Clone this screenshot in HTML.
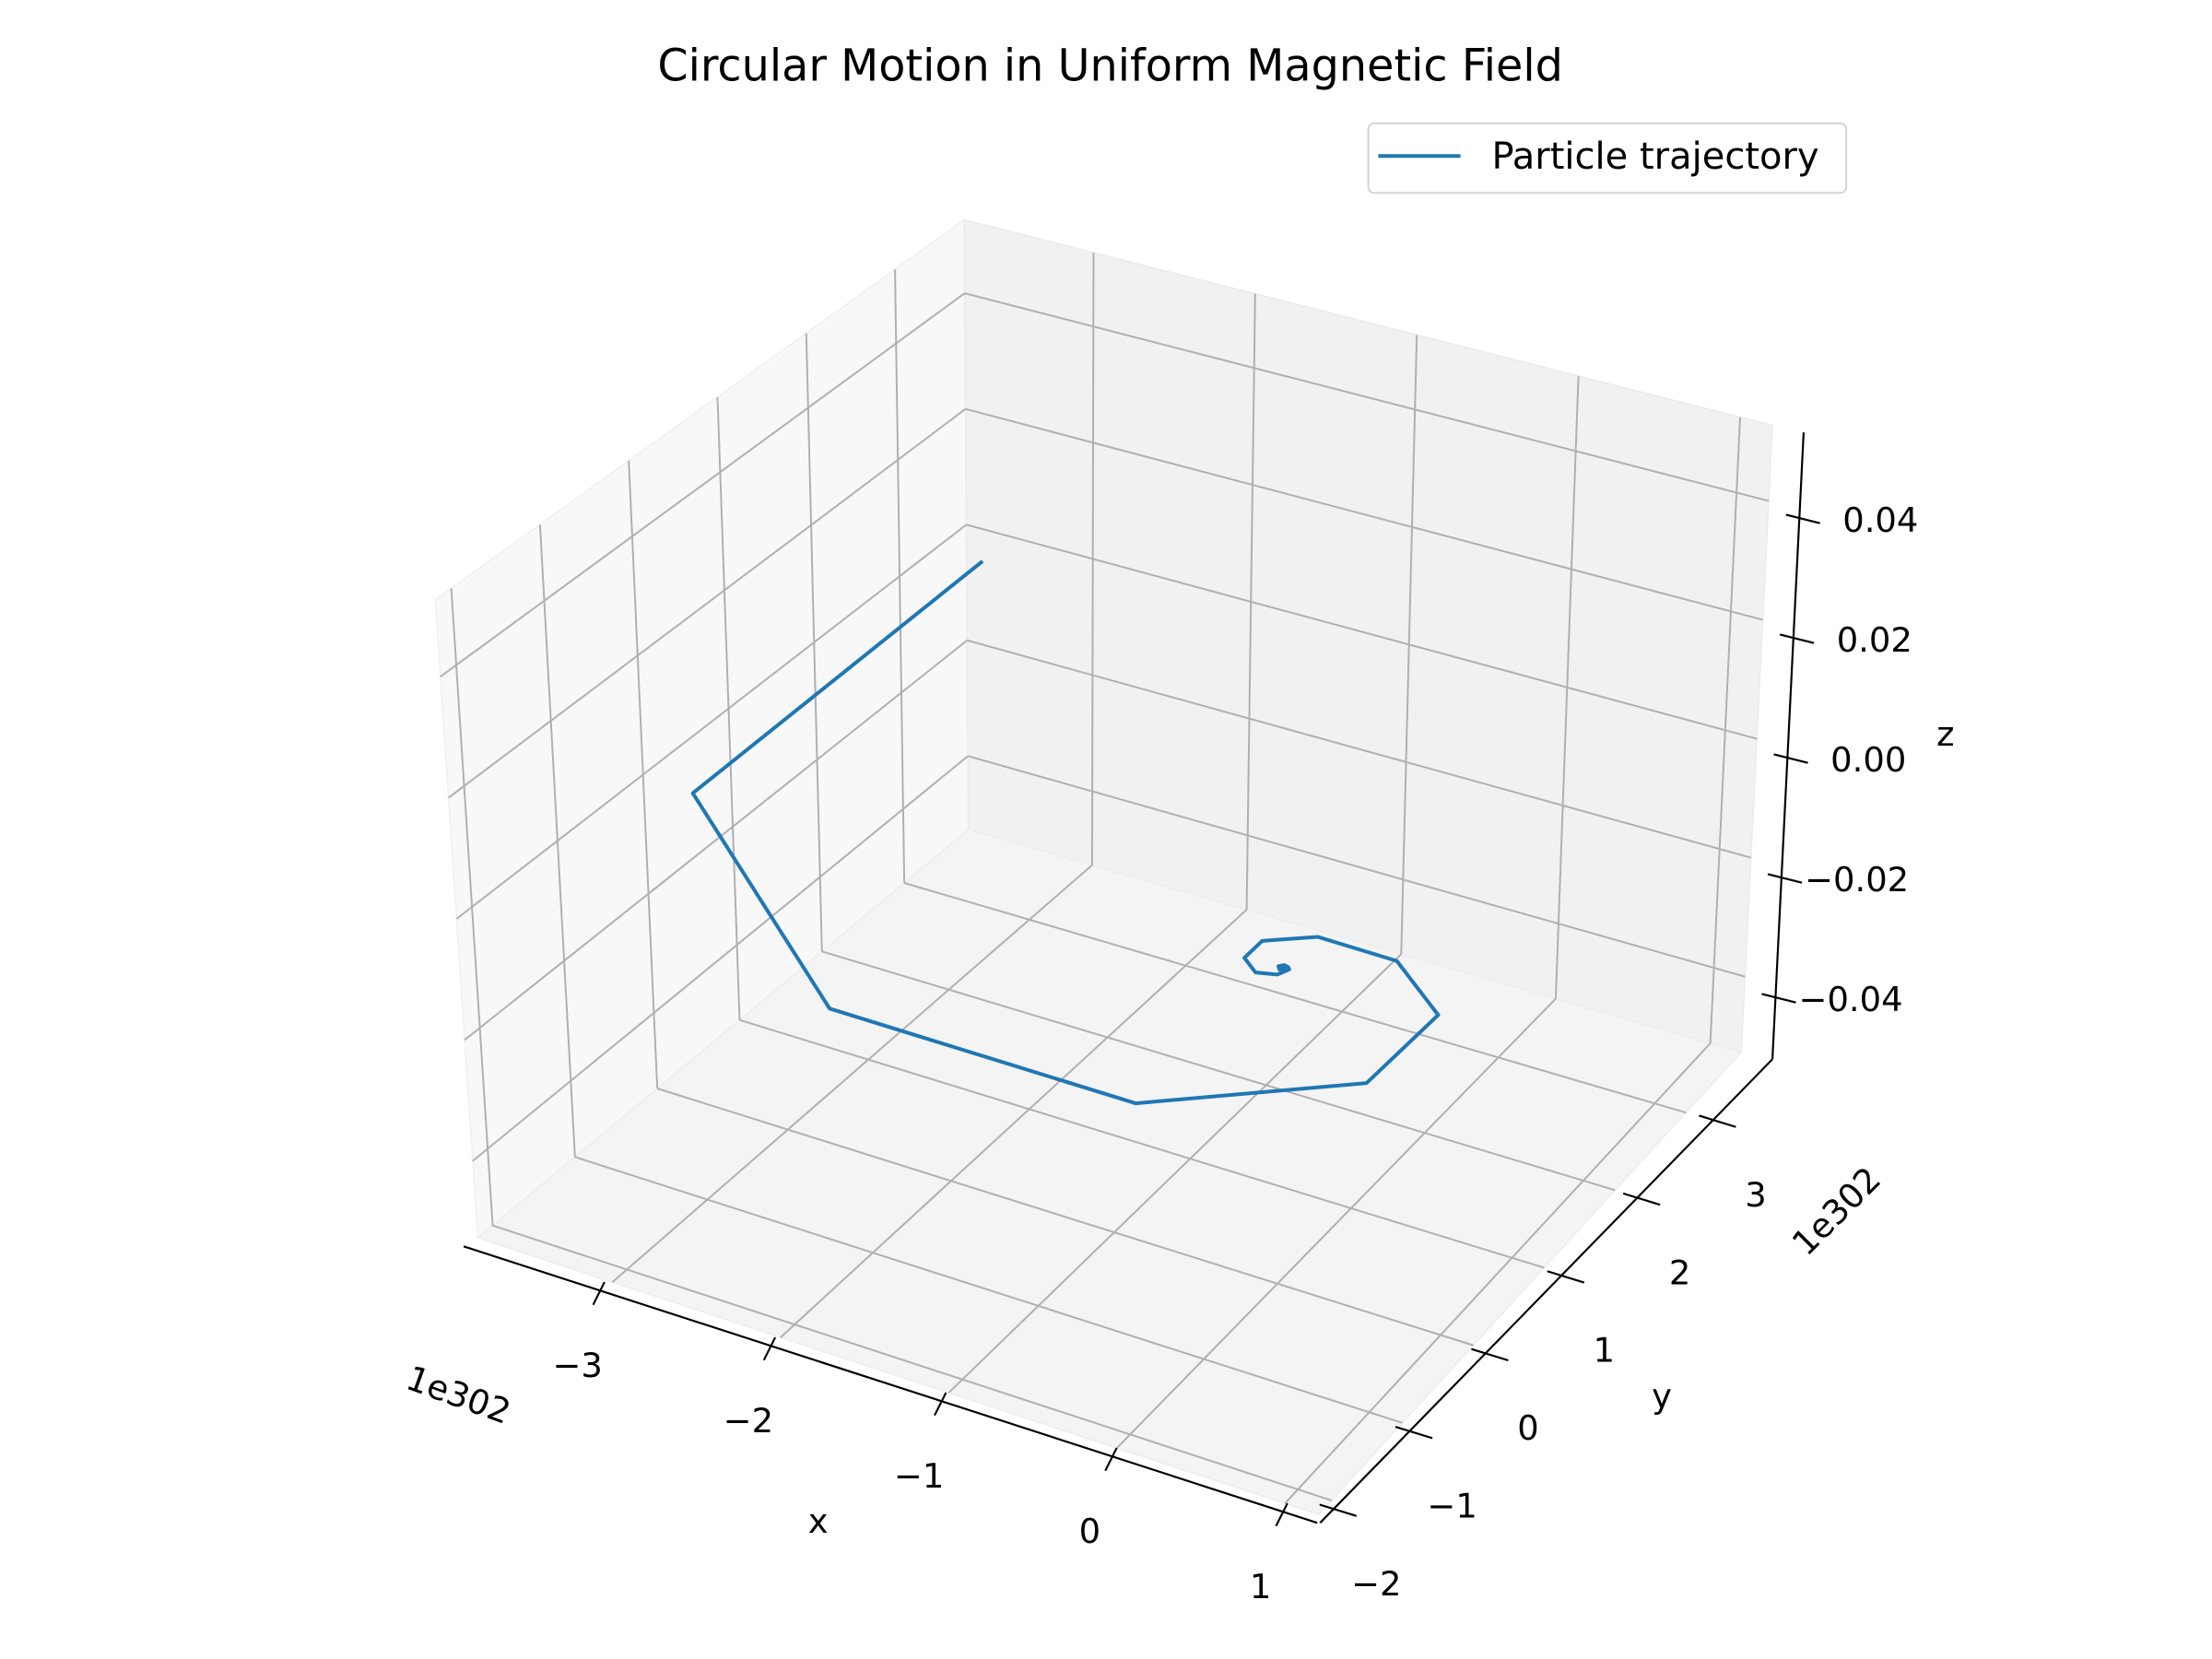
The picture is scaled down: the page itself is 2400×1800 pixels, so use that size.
<!DOCTYPE html>
<html><head><meta charset="utf-8"><style>
html,body{margin:0;padding:0;background:#fff;}
svg{display:block;}
text{font-family:"DejaVu Sans","Liberation Sans",sans-serif;fill:#000;}
</style></head><body>
<svg id="chart" width="2400" height="1800" viewBox="0 0 1560 1170" xmlns="http://www.w3.org/2000/svg">
<rect width="1560" height="1170" fill="#fff"/>
<text x="783" y="57" font-size="31" text-anchor="middle">Circular Motion in Uniform Magnetic Field</text>
<g id="panes"></g><g id="grid"></g><g id="axes"></g><g id="series"></g>
<g>
<rect x="965" y="87" width="337" height="49" rx="4" fill="#fff" stroke="#d5d5d5" stroke-width="1.3"/>
<line x1="972" y1="110" x2="1030" y2="110" stroke="#1f77b4" stroke-width="2.6"/>
<text x="1052" y="119" font-size="26">Particle trajectory</text>
</g>
</svg>
<script>
const xTicks=[-3,-2,-1,0,1];
const yTicks=[-2,-1,0,1,2,3];
const zTicks=[-0.04,-0.02,0.00,0.02,0.04];
const zTickLabels=["\u22120.04","\u22120.02","0.00","0.02","0.04"];
const trajX=[-3.46,-3.44,-1.73,0.05,0.99,1.01,0.57,0.09,-0.145,-0.145,-0.025,0.085,0.115,0.10,0.07,0.05,0.07,0.09,0.075];
const trajY=[3.37,-0.07,-1.91,-1.89,-0.95,-0.035,0.39,0.395,0.18,-0.05,-0.165,-0.12,-0.03,-0.01,0.0,-0.03,-0.06,-0.04,-0.03];
const trajZ=[0,0,0,0,0,0,0,0,0,0,0,0,0,0,0,0,0,0,0];
const XL=[-3.8,1.2],YL=[-2.18,3.78],ZL=[-0.0527,0.0527];
const NS='http://www.w3.org/2000/svg';
const A=[337,873],B=[930,1068],C=[1228,742],D=[683,585];
const A2=[307,423],B2=[925,613],C2=[1250,300],D2=[680,155];
function bil(p00,p10,p11,p01,u,v){return [p00[0]*(1-u)*(1-v)+p10[0]*u*(1-v)+p11[0]*u*v+p01[0]*(1-u)*v,p00[1]*(1-u)*(1-v)+p10[1]*u*(1-v)+p11[1]*u*v+p01[1]*(1-u)*v];}
function proj(x,y,z){const u=(x-XL[0])/(XL[1]-XL[0]),v=(y-YL[0])/(YL[1]-YL[0]),w=(z-ZL[0])/(ZL[1]-ZL[0]);
const b=bil(A,B,C,D,u,v),t=bil(A2,B2,C2,D2,u,v);return [b[0]+(t[0]-b[0])*w-3,b[1]+(t[1]-b[1])*w-3];}
function mk(tag,attrs,parent){const e=document.createElementNS(NS,tag);for(const k in attrs)e.setAttribute(k,attrs[k]);parent.appendChild(e);return e;}
function poly(pts){return pts.map(p=>p[0].toFixed(1)+','+p[1].toFixed(1)).join(' ');}
const gp=document.getElementById('panes'),gg=document.getElementById('grid'),ga=document.getElementById('axes'),gs=document.getElementById('series');
let e;
e=mk('polygon',{points:poly([A,D,D2,A2]),fill:'#f8f8f8',stroke:'#f0f0f0','stroke-width':1},gp);


e=mk('polygon',{points:poly([D,C,C2,D2]),fill:'#f1f1f1',stroke:'#ebebeb','stroke-width':1},gp);


e=mk('polygon',{points:poly([A,B,C,D]),fill:'#f4f4f4',stroke:'#ededed','stroke-width':1},gp);


function pg(x,y,z){const u=(x-XL[0])/(XL[1]-XL[0]),v=(y-YL[0])/(YL[1]-YL[0]),w=(z-ZL[0])/(ZL[1]-ZL[0]);
const b=bil(A,B,C,D,u,v),t=bil(A2,B2,C2,D2,u,v);return [b[0]+(t[0]-b[0])*w,b[1]+(t[1]-b[1])*w];}
function gl(p,q,name){const l=mk('line',{x1:p[0],y1:p[1],x2:q[0],y2:q[1],stroke:'#b0b0b0','stroke-width':1.3},gg);

}
xTicks.forEach(x=>{gl(pg(x,YL[0],ZL[0]),pg(x,YL[1],ZL[0]),'x-gridline-floor');gl(pg(x,YL[1],ZL[0]),pg(x,YL[1],ZL[1]),'x-gridline-back');});
yTicks.forEach(y=>{gl(pg(XL[1],y,ZL[0]),pg(XL[0],y,ZL[0]),'y-gridline-floor');gl(pg(XL[0],y,ZL[0]),pg(XL[0],y,ZL[1]),'y-gridline-side');});
zTicks.forEach(z=>{gl(pg(XL[0],YL[0],z),pg(XL[0],YL[1],z),'z-gridline-side');gl(pg(XL[0],YL[1],z),pg(XL[1],YL[1],z),'z-gridline-back');});
function axl(p,q,name){const l=mk('line',{x1:p[0],y1:p[1],x2:q[0],y2:q[1],stroke:'#000','stroke-width':1.4},ga);

}
function txt(s,x,y,fs,name,extra){const t=mk('text',Object.assign({x:x,y:y,'font-size':fs,'text-anchor':'middle'},extra||{}),ga);t.textContent=s;

return t;}
const FS=24;
// x axis
const xa0=[327,879],xa1=[929,1074];
axl(xa0,xa1,'x-axis-line');
function xAx(x){const f=(x-XL[0])/(XL[1]-XL[0]);return [xa0[0]+(xa1[0]-xa0[0])*f,xa0[1]+(xa1[1]-xa0[1])*f];}
xTicks.forEach(x=>{const p=xAx(x);axl([p[0]+3,p[1]-6],[p[0]-5,p[1]+10],'x-tick');
txt(String(x).replace('-','\u2212'),p[0]-16,p[1]+61,FS,'x-tick-label');});
txt('x',577,1081,FS,'x-axis-title');
txt('1e302',323,992,FS,'x-offset-label',{transform:'rotate(20 323 985)'});
// y axis
const ya0=[931,1074],ya1=[1250,747];
axl(ya0,ya1,'y-axis-line');
function yAx(y){const f=(y-YL[0])/(YL[1]-YL[0]);return [ya0[0]+(ya1[0]-ya0[0])*f,ya0[1]+(ya1[1]-ya0[1])*f];}
yTicks.forEach(y=>{const p=yAx(y);axl([p[0]-10,p[1]-3],[p[0]+16,p[1]+5],'y-tick');
txt(String(y).replace('-','\u2212'),p[0]+30,p[1]+61,FS,'y-tick-label');});
txt('y',1172,993,FS,'y-axis-title');
txt('1e302',1296,862,FS,'y-offset-label',{transform:'rotate(-45 1296 855)'});
// z axis
const za0=[1250,747],za1=[1272,305];
axl(za0,za1,'z-axis-line');
function zAx(z){return [1261+z/0.04*8.5,535-z/0.04*169];}
zTicks.forEach((z,i)=>{const p=zAx(z);axl([p[0]-10,p[1]-3],[p[0]+14,p[1]+3],'z-tick');
txt(zTickLabels[i],p[0]+(z<0?16:30),p[1]+9,FS,'z-tick-label',{'text-anchor':'start'});});
txt('z',1372,526,FS,'z-axis-title');
// series
const pts=trajX.map((x,i)=>proj(x,trajY[i],trajZ[i]));
e=mk('polyline',{points:poly(pts),fill:'none',stroke:'#1f77b4','stroke-width':2.6,'stroke-linejoin':'round','stroke-linecap':'square'},gs);


</script>
</body></html>
